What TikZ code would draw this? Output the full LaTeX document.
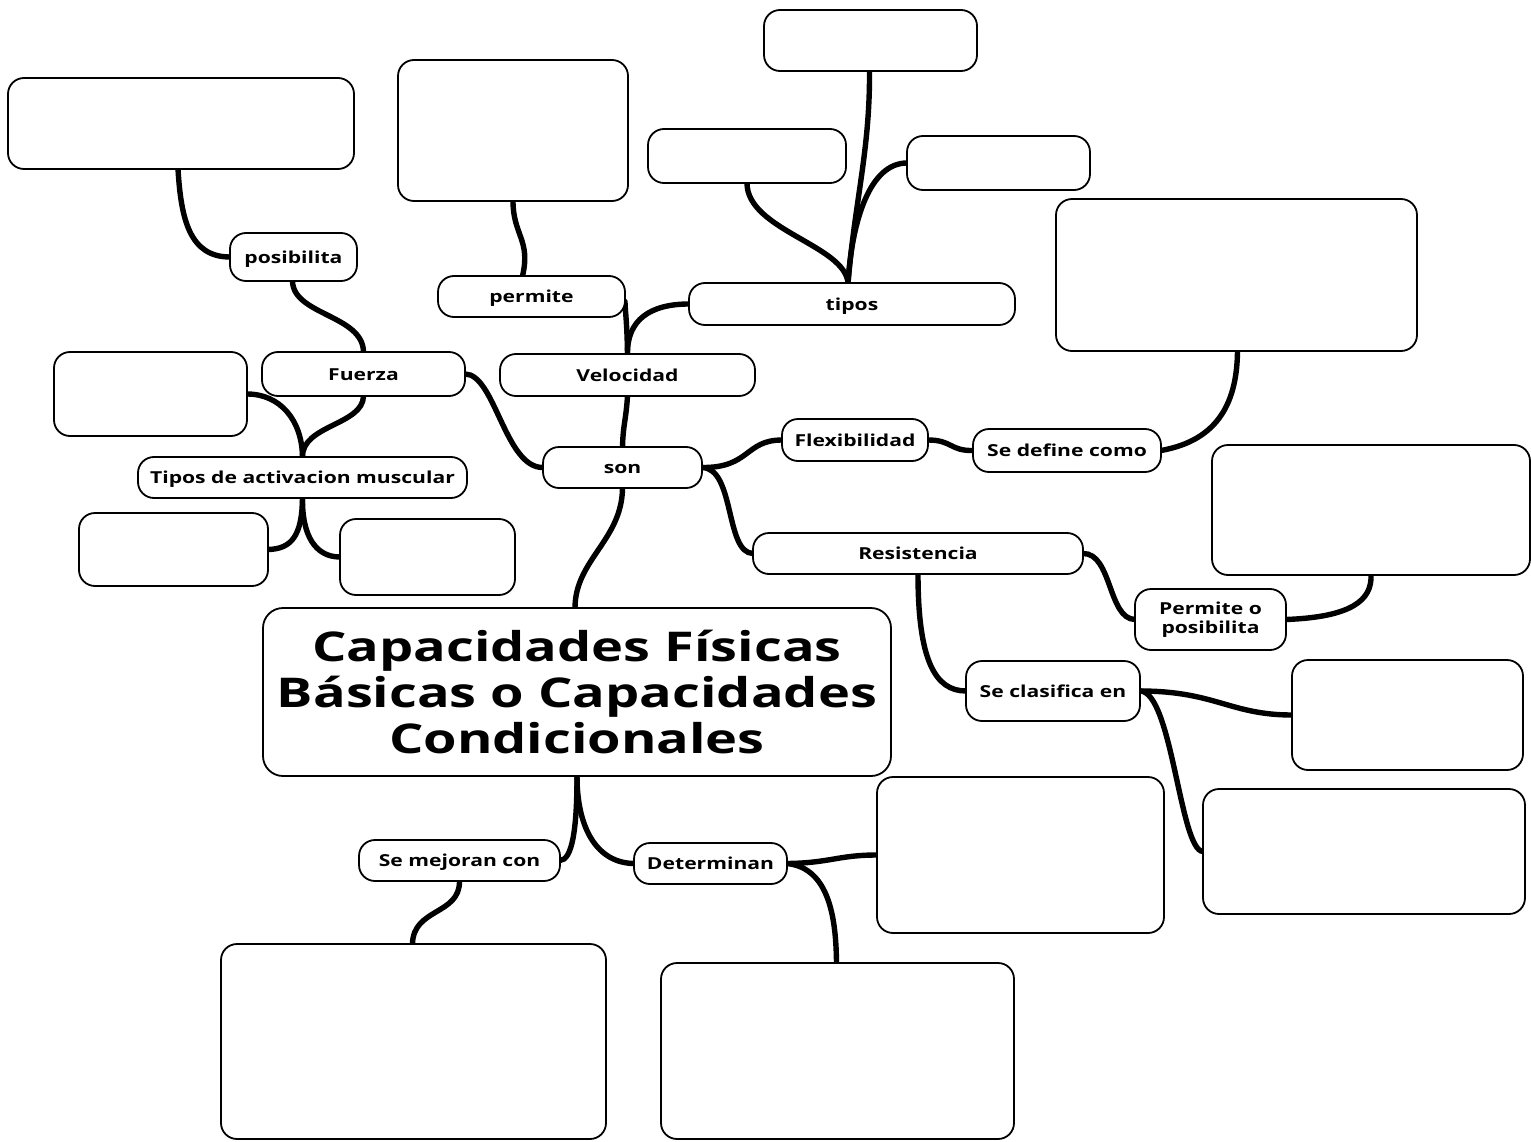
\documentclass[tikz,border=0pt]{standalone}
\usepackage{fontspec}
\setmainfont{Open Sans}[FakeStretch=1.28]
\newfontfamily\titlefont{Open Sans}[FakeStretch=1.32]
\usetikzlibrary{backgrounds}
\tikzset{
  box/.style={draw, line width=1.8pt, rounded corners=16pt, inner sep=0pt, outer sep=0pt, fill=white},
  lab/.style={box, font=\bfseries\fontsize{16.5}{19}\selectfont, align=center, text height=14pt, text depth=2pt},
  lab2/.style={box, font=\bfseries\fontsize{16.5}{19}\selectfont, align=center},
  title/.style={box, rounded corners=20pt, font=\titlefont\bfseries\fontsize{41}{46}\selectfont, align=center},
  conn/.style={line width=5.4pt, line cap=round},
}
\newcommand{\mkb}[7][box]{\node[#1, minimum width={#5-#3}, minimum height={#6-#4}] (#2) at ({(#3+#5)/2},{(#4+#6)/2}) {#7};}
\begin{document}
\begin{tikzpicture}[x=1pt, y=-1pt]
\useasboundingbox (0,0) rectangle (1531,1142);
% boxes
\mkb{bposTop}{8}{78}{354}{169}{}
\mkb[lab]{posib}{230}{233}{357}{281}{posibilita}
\mkb[lab]{fuerza}{262}{352}{465}{396}{Fuerza}
\mkb{bfl}{54}{352}{247}{436}{}
\mkb[lab]{tipact}{138}{457}{467}{498}{Tipos de activacion muscular}
\mkb{btll}{79}{513}{268}{586}{}
\mkb{btlr}{340}{519}{515}{595}{}
\mkb{bpermTop}{398}{60}{628}{201}{}
\mkb[lab]{permite}{438}{276}{625}{317}{permite}
\mkb[lab]{veloc}{500}{354}{755}{396}{Velocidad}
\mkb[lab]{tipos}{689}{283}{1015}{325}{tipos}
\mkb{btTop}{764}{10}{977}{71}{}
\mkb{btL}{648}{129}{846}{183}{}
\mkb{btR}{907}{136}{1090}{190}{}
\mkb[lab]{son}{543}{447}{702}{488}{son}
\mkb[lab]{flex}{782}{419}{928}{461}{Flexibilidad}
\mkb[lab]{sedef}{973}{429}{1161}{472}{Se define como}
\mkb{bdef}{1056}{199}{1417}{351}{}
\mkb[lab]{resist}{753}{533}{1083}{574}{Resistencia}
\mkb[lab2]{permo}{1135}{589}{1286}{650}{Permite o\\posibilita}
\mkb{bpermR}{1212}{445}{1530}{575}{}
\mkb[lab]{seclas}{966}{661}{1140}{721}{Se clasifica en}
\mkb{bc1}{1292}{660}{1523}{770}{}
\mkb{bc2}{1203}{789}{1525}{914}{}
\mkb[title]{main}{263}{608}{891}{776}{Capacidades Físicas\\Básicas o Capacidades\\Condicionales}
\mkb[lab]{semej}{359}{840}{560}{881}{Se mejoran con}
\mkb[lab]{deter}{634}{843}{787}{884}{Determinan}
\mkb{bdetR}{877}{777}{1164}{933}{}
\mkb{bdetB}{661}{963}{1014}{1139}{}
\mkb{bmejB}{221}{944}{606}{1139}{}
% connectors
\begin{scope}[on background layer]
\fill[white] (0,0) rectangle (1531,1142);
\draw[conn] ([xshift=-2pt]main.north) .. controls (575,560) and (622,540) .. (son.south);
\draw[conn] (veloc.south) .. controls (626,420) and (623,425) .. (son.north);
\draw[conn] (veloc.north) .. controls (627,320) and (625,310) .. ([yshift=-5pt]permite.east);
\draw[conn] (veloc.north) .. controls (627,320) and (650,304) .. (tipos.west);
\draw[conn] ([xshift=-9pt]permite.north) .. controls (531,240) and (513,235) .. (bpermTop.south);
\draw[conn] ([xshift=-4pt]tipos.north) .. controls (855,200) and (870,150) .. ([xshift=-1pt]btTop.south);
\draw[conn] ([xshift=-4pt]tipos.north) .. controls (845,245) and (747,230) .. (btL.south);
\draw[conn] ([xshift=-4pt]tipos.north) .. controls (852,220) and (870,163) .. (btR.west);
\draw[conn] (son.west) .. controls (505,468) and (495,374) .. (fuerza.east);
\draw[conn] (fuerza.north) .. controls (363,315) and (293,315) .. ([xshift=-1pt]posib.south);
\draw[conn] (posib.west) .. controls (190,257) and (181,220) .. ([xshift=-3pt]bposTop.south);
\draw[conn] (fuerza.south) .. controls (363,425) and (302,425) .. (tipact.north);
\draw[conn] (tipact.north) .. controls (302,420) and (280,394) .. (bfl.east);
\draw[conn] (tipact.south) .. controls (302,535) and (292,549) .. (btll.east);
\draw[conn] (tipact.south) .. controls (302,535) and (315,557) .. (btlr.west);
\draw[conn] (son.east) .. controls (750,468) and (745,440) .. (flex.west);
\draw[conn] (flex.east) .. controls (952,440) and (950,451) .. (sedef.west);
\draw[conn] (sedef.east) .. controls (1220,440) and (1237,400) .. ([xshift=1pt]bdef.south);
\draw[conn] (son.east) .. controls (735,468) and (725,553) .. (resist.west);
\draw[conn] (resist.east) .. controls (1112,553) and (1108,619) .. (permo.west);
\draw[conn] (permo.east) .. controls (1352,617) and (1372,600) .. (bpermR.south);
\draw[conn] (resist.south) .. controls (918,660) and (935,691) .. (seclas.west);
\draw[conn] (seclas.east) .. controls (1215,691) and (1230,715) .. (bc1.west);
\draw[conn] (seclas.east) .. controls (1172,691) and (1180,851) .. (bc2.west);
\draw[conn] (main.south) .. controls (577,830) and (572,860) .. (semej.east);
\draw[conn] (main.south) .. controls (577,830) and (598,863) .. (deter.west);
\draw[conn] (semej.south) .. controls (460,915) and (413,908) .. ([xshift=-1pt]bmejB.north);
\draw[conn] (deter.east) .. controls (830,863) and (838,855) .. (bdetR.west);
\draw[conn] (deter.east) .. controls (830,868) and (836,920) .. ([xshift=-1pt]bdetB.north);
\end{scope}
\end{tikzpicture}
\end{document}
